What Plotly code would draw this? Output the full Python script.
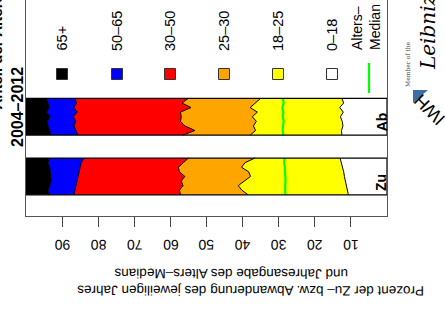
import plotly.graph_objects as go

# ---------------- data ----------------
years = [2004, 2005, 2006, 2007, 2008, 2009, 2010, 2011, 2012]
groups = ["0–18", "18–25", "25–30", "30–50", "50–65", "65+"]
group_colors = ["#FFFFFF", "#FFFF00", "#FFA500", "#FF0000", "#0000FF", "#000000"]
bars = ["Zu", "Ab"]

# shares (percent) of each age group per year, Zuwanderung
zu_0_18 = [13.0, 12.6, 12.3, 12.0, 11.8, 11.5, 11.2, 11.0, 10.7]
zu_18_25 = [23.6, 26.7, 28.0, 26.3, 26.0, 28.0, 30.0, 29.2, 27.8]
zu_25_30 = [18.4, 17.2, 17.5, 19.2, 18.2, 17.5, 15.3, 17.3, 18.7]
zu_30_50 = [28.9, 28.2, 27.2, 27.8, 29.6, 28.8, 29.6, 28.9, 29.5]
zu_50_65 = [9.7, 9.2, 8.4, 8.1, 7.6, 7.2, 7.3, 7.5, 6.9]
zu_65p = [6.4, 6.1, 6.6, 6.6, 6.8, 7.0, 6.6, 6.1, 6.4]
zu_median = [28.4, 28.5, 28.3, 28.2, 28.3, 28.1, 28.2, 28.1, 28.2]

# Abwanderung
ab_0_18 = [12.5, 12.0, 13.1, 12.1, 12.9, 12.4, 12.2, 12.6, 12.5]
ab_18_25 = [22.5, 24.4, 24.8, 23.8, 24.4, 23.8, 24.8, 23.8, 25.4]
ab_25_30 = [20.0, 20.4, 16.4, 21.3, 19.7, 21.0, 19.0, 16.8, 18.6]
ab_30_50 = [31.5, 29.2, 32.4, 28.6, 29.9, 29.0, 30.7, 32.9, 29.1]
ab_50_65 = [8.0, 7.9, 6.9, 8.5, 6.3, 7.9, 7.2, 7.3, 7.6]
ab_65p = [5.5, 6.1, 6.4, 5.7, 6.8, 5.9, 6.1, 6.6, 6.8]
ab_median = [28.9, 28.6, 29.0, 28.7, 28.9, 28.6, 28.8, 28.9, 28.7]

x_ticks = [10, 20, 30, 40, 50, 60, 70, 80, 90]

series = {
    "Zu": [zu_0_18, zu_18_25, zu_25_30, zu_30_50, zu_50_65, zu_65p],
    "Ab": [ab_0_18, ab_18_25, ab_25_30, ab_30_50, ab_50_65, ab_65p],
}
medians = {"Zu": zu_median, "Ab": ab_median}

# ---------------- layout helpers ----------------
W, H = 445, 317
L, R, T, B = 26, 387, 0, 216  # plot area in pixels
BAR_W = 0.615
UPSIDE = -179.9


def px(x):
    return (x - L) / (R - L)


def py(y):
    return 1 - (y - T) / (B - T)


FONT = "Liberation Sans, Arial, sans-serif"
fig = go.Figure()

for bi, name in enumerate(bars):
    n = len(years)
    ys = [bi + BAR_W / 2 - i * BAR_W / (n - 1) for i in range(n)]
    cum = [0.0] * n
    fig.add_trace(go.Scatter(x=cum[:], y=ys, mode="lines", line=dict(width=0),
                             showlegend=False, hoverinfo="skip"))
    for gi, vals in enumerate(series[name]):
        cum = [c + v for c, v in zip(cum, vals)]
        fig.add_trace(go.Scatter(x=cum[:], y=ys, mode="lines",
                                 line=dict(color="black", width=1),
                                 fill="tonextx", fillcolor=group_colors[gi],
                                 showlegend=False, hoverinfo="skip"))
    fig.add_trace(go.Scatter(x=medians[name], y=ys, mode="lines",
                             line=dict(color="#00FF00", width=2.2),
                             showlegend=False, hoverinfo="skip"))
    fig.add_shape(type="rect", xref="x", yref="y", x0=0, x1=100,
                  y0=bi - BAR_W / 2, y1=bi + BAR_W / 2,
                  line=dict(color="black", width=1.2))
    fig.add_annotation(x=1.5, y=bi - BAR_W / 2 + 0.03, xref="x", yref="y",
                       text="<b>%s</b>" % name, textangle=-90, showarrow=False,
                       xanchor="center", yanchor="bottom",
                       font=dict(family=FONT, size=14, color="black"))

# tick labels (upside down)
for v in x_ticks:
    fig.add_annotation(x=v, y=py(245), xref="x", yref="paper", text=str(v),
                       textangle=UPSIDE, showarrow=False, xanchor="center",
                       yanchor="middle", font=dict(family=FONT, size=14, color="black"))

# legend (drawn manually, rotated)
leg_x = [62, 117, 170, 224, 278, 332]
legend_order = [5, 4, 3, 2, 1, 0]
for cx, gi in zip(leg_x, legend_order):
    fig.add_shape(type="rect", xref="paper", yref="paper",
                  x0=px(cx - 5.5), x1=px(cx + 5.5), y0=py(79.5), y1=py(68.5),
                  fillcolor=group_colors[gi], line=dict(color="#333333", width=1))
    fig.add_annotation(x=px(cx), y=py(53), xref="paper", yref="paper",
                       text=groups[gi], textangle=-90, showarrow=False,
                       xanchor="center", yanchor="bottom",
                       font=dict(family=FONT, size=14.5, color="black"))
fig.add_shape(type="line", xref="paper", yref="paper",
              x0=px(369), x1=px(369), y0=py(63), y1=py(93),
              line=dict(color="#00FF00", width=2.2))
fig.add_annotation(x=px(366), y=py(52), xref="paper", yref="paper",
                   text="Alters–<br>Median", textangle=-90, showarrow=False,
                   xanchor="center", yanchor="bottom", align="left",
                   font=dict(family=FONT, size=14, color="black"))

# title (rotated, partly off-canvas)
fig.add_annotation(x=px(17), y=py(107), xref="paper", yref="paper",
                   text="<b>2004–2012</b>", textangle=-90, showarrow=False,
                   xanchor="center", yanchor="middle",
                   font=dict(family=FONT, size=16, color="black"))
fig.add_annotation(x=px(-4), y=py(112), xref="paper", yref="paper",
                   text="<b>Anteil der Altersgruppen</b>", textangle=-90,
                   showarrow=False, xanchor="center", yanchor="bottom",
                   font=dict(family=FONT, size=15, color="black"))

# axis title (upside down)
fig.add_annotation(x=px(251), y=py(291), xref="paper", yref="paper",
                   text="Prozent der Zu– bzw. Abwanderung des jeweiligen Jahres",
                   textangle=UPSIDE, showarrow=False, xanchor="center", yanchor="middle",
                   font=dict(family=FONT, size=13.5, color="black"))
fig.add_annotation(x=px(231), y=py(274), xref="paper", yref="paper",
                   text="und Jahresangabe des Alters–Medians",
                   textangle=UPSIDE, showarrow=False, xanchor="center", yanchor="middle",
                   font=dict(family=FONT, size=13.5, color="black"))

# logos (approximation)
fig.add_annotation(x=px(407), y=py(64), xref="paper", yref="paper",
                   text="Member of the", textangle=-90, showarrow=False,
                   xanchor="center", yanchor="middle",
                   font=dict(family="DejaVu Serif, serif", size=6, color="#444444"))
fig.add_annotation(x=px(428), y=py(32), xref="paper", yref="paper",
                   text="<i>Leibniz</i>", textangle=-90, showarrow=False,
                   xanchor="center", yanchor="middle",
                   font=dict(family="DejaVu Serif, serif", size=20, color="black"))
fig.add_shape(type="path", xref="paper", yref="paper",
              path="M %f,%f L %f,%f L %f,%f Z" % (px(413), py(90), px(428), py(90), px(413), py(103)),
              fillcolor="#3A6EA5", line=dict(width=0))
fig.add_annotation(x=px(430), y=py(110), xref="paper", yref="paper",
                   text="IWH", textangle=-135, showarrow=False,
                   xanchor="center", yanchor="middle",
                   font=dict(family=FONT, size=18, color="black"))

fig.update_layout(
    width=W, height=H,
    margin=dict(l=L, r=W - R, t=T, b=H - B),
    plot_bgcolor="white", paper_bgcolor="white",
    showlegend=False,
    hovermode=False,
    xaxis=dict(range=[100, 0], tickvals=x_ticks, showticklabels=False,
               ticks="outside", ticklen=10, tickwidth=1,
               tickcolor="#444444", showline=True, linecolor="#555555", linewidth=1,
               showgrid=False, zeroline=False),
    yaxis=dict(range=[-0.663, 2.955], showticklabels=False, showgrid=False,
               zeroline=False, showline=True, mirror=True, linecolor="#555555",
               linewidth=1, ticks=""),
)

fig.write_html("out.html", config={"displayModeBar": False, "staticPlot": True},
               post_script="document.body.style.margin='0';document.body.style.overflow='hidden';")
